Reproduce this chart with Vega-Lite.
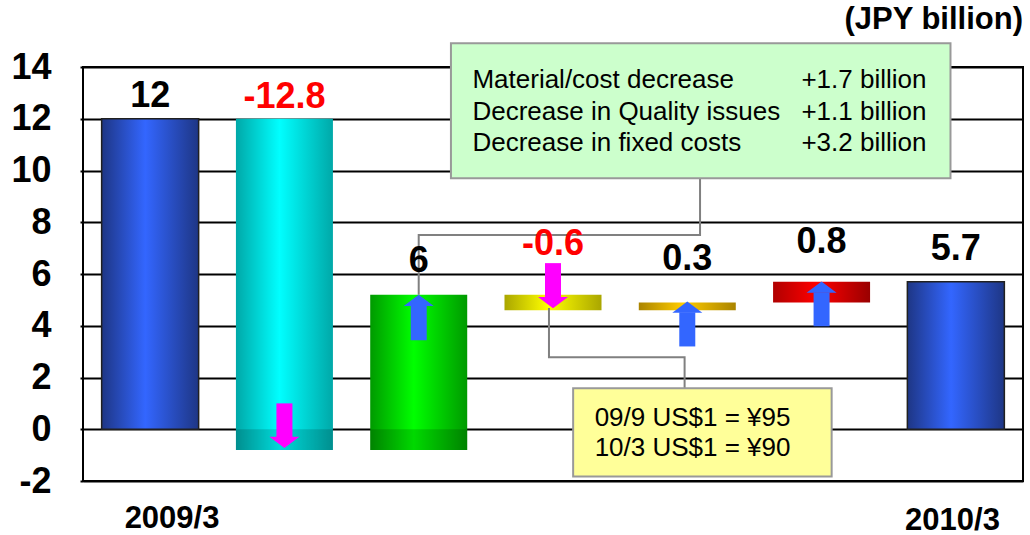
{
  "$schema": "https://vega.github.io/schema/vega-lite/v6.json",
  "width": 940,
  "height": 414,
  "autosize": {"type": "none"},
  "padding": {"left": 83, "top": 67, "right": 7, "bottom": 54},
  "background": "white",
  "config": {
    "view": {"stroke": "black", "strokeWidth": 2},
    "font": "Liberation Sans",
    "axisY": {
      "grid": true, "gridColor": "black", "gridWidth": 2, "gridOpacity": 1,
      "domain": false, "tickSize": 3, "tickColor": "black", "tickWidth": 2, "labelFontSize": 36, "labelFontWeight": "bold",
      "labelColor": "black", "labelPadding": 29, "labelFont": "Liberation Sans"
    }
  },
  "datasets": {
    "bars": [
      {"pos": 1, "text": "12", "value": 12, "lo": 0, "hi": 12, "labelY": 12.45},
      {"pos": 2, "text": "-12.8", "value": -12.8, "lo": -0.8, "hi": 12, "labelY": 12.42},
      {"pos": 3, "text": "6", "value": 6, "lo": -0.8, "hi": 5.2, "labelY": 6.09},
      {"pos": 4, "text": "-0.6", "value": -0.6, "lo": 4.6, "hi": 5.2, "labelY": 6.73},
      {"pos": 5, "text": "0.3", "value": 0.3, "lo": 4.6, "hi": 4.9, "labelY": 6.15},
      {"pos": 6, "text": "0.8", "value": 0.8, "lo": 4.9, "hi": 5.7, "labelY": 6.82},
      {"pos": 7, "text": "5.7", "value": 5.7, "lo": 0, "hi": 5.7, "labelY": 6.54}
    ],
    "arrows": [
      {"pos": 2, "dir": "down", "start": 1.0, "base": -0.3, "tip": -0.72},
      {"pos": 3, "dir": "up", "start": 3.44, "base": 4.78, "tip": 5.2},
      {"pos": 4, "dir": "down", "start": 6.42, "base": 5.1, "tip": 4.68},
      {"pos": 5, "dir": "up", "start": 3.2, "base": 4.52, "tip": 4.94},
      {"pos": 6, "dir": "up", "start": 3.98, "base": 5.29, "tip": 5.71}
    ],
    "connectors": [
      {"id": "a", "order": 1, "x": 5.095, "y": 9.7},
      {"id": "a", "order": 2, "x": 5.095, "y": 7.51},
      {"id": "a", "order": 3, "x": 3.0, "y": 7.51},
      {"id": "a", "order": 4, "x": 3.0, "y": 5.2},
      {"id": "b", "order": 1, "x": 3.97, "y": 4.69},
      {"id": "b", "order": 2, "x": 3.97, "y": 2.78},
      {"id": "b", "order": 3, "x": 4.98, "y": 2.78},
      {"id": "b", "order": 4, "x": 4.98, "y": 1.58}
    ],
    "boxes": [
      {"box": "green", "x": 3.24, "x2": 6.96, "y": 14.92, "y2": 9.7},
      {"box": "yellow", "x": 4.15, "x2": 6.075, "y": 1.58, "y2": -1.83}
    ],
    "boxText": [
      {"t": "Material/cost decrease", "x": 3.4, "y": 13.5},
      {"t": "Decrease in Quality issues", "x": 3.4, "y": 12.28},
      {"t": "Decrease in fixed costs", "x": 3.4, "y": 11.06},
      {"t": "+1.7 billion", "x": 5.85, "y": 13.5},
      {"t": "+1.1 billion", "x": 5.85, "y": 12.28},
      {"t": "+3.2 billion", "x": 5.85, "y": 11.06},
      {"t": "09/9 US$1 = ¥95", "x": 4.31, "y": 0.435},
      {"t": "10/3 US$1 = ¥90", "x": 4.31, "y": -0.725}
    ],
    "categories": [
      {"label": "2009/3", "x": 1.163, "y": -3.83},
      {"label": "2010/3", "x": 6.975, "y": -3.9}
    ],
    "unit": [
      {"label": "(JPY billion)", "x": 7.5, "y": 15.45}
    ]
  },
  "layer": [
    {
      "data": {"name": "bars"},
      "transform": [{"filter": "datum.pos == 1 || datum.pos == 7"}],
      "mark": {
        "type": "bar", "width": 97, "stroke": "#202020", "strokeWidth": 1.5,
        "color": {"gradient": "linear", "x1": 0, "y1": 0, "x2": 1, "y2": 0,
          "stops": [{"offset": 0, "color": "#1e3685"}, {"offset": 0.45, "color": "#3366ff"}, {"offset": 1, "color": "#1e3685"}]}
      },
      "encoding": {
        "x": {"field": "pos", "type": "quantitative", "scale": {"domain": [0.5, 7.5], "nice": false, "zero": false, "padding": 0}, "axis": null},
        "y": {"field": "lo", "type": "quantitative", "scale": {"domain": [-2, 14], "nice": false, "zero": false},
          "axis": {"title": null, "values": [-2, 0, 2, 4, 6, 8, 10, 12, 14], "labelExpr": "'' + datum.value"}},
        "y2": {"field": "hi"}
      }
    },
    {
      "data": {"name": "bars"},
      "transform": [{"filter": "datum.pos == 2"}],
      "mark": {
        "type": "bar", "width": 97,
        "color": {"gradient": "linear", "x1": 0, "y1": 0, "x2": 1, "y2": 0,
          "stops": [{"offset": 0, "color": "#00a8a8"}, {"offset": 0.45, "color": "#00ffff"}, {"offset": 1, "color": "#00a8a8"}]}
      },
      "encoding": {
        "x": {"field": "pos", "type": "quantitative", "axis": null},
        "y": {"field": "lo", "type": "quantitative", "axis": {"title": null}},
        "y2": {"field": "hi"}
      }
    },
    {
      "data": {"name": "bars"},
      "transform": [{"filter": "datum.pos == 3"}],
      "mark": {
        "type": "bar", "width": 97,
        "color": {"gradient": "linear", "x1": 0, "y1": 0, "x2": 1, "y2": 0,
          "stops": [{"offset": 0, "color": "#009a00"}, {"offset": 0.45, "color": "#00ff00"}, {"offset": 1, "color": "#009a00"}]}
      },
      "encoding": {
        "x": {"field": "pos", "type": "quantitative", "axis": null},
        "y": {"field": "lo", "type": "quantitative", "axis": {"title": null}},
        "y2": {"field": "hi"}
      }
    },
    {
      "data": {"name": "bars"},
      "transform": [{"filter": "datum.pos == 4"}],
      "mark": {
        "type": "bar", "width": 97,
        "color": {"gradient": "linear", "x1": 0, "y1": 0, "x2": 1, "y2": 0,
          "stops": [{"offset": 0, "color": "#aaa600"}, {"offset": 0.45, "color": "#ffff00"}, {"offset": 1, "color": "#aaa600"}]}
      },
      "encoding": {
        "x": {"field": "pos", "type": "quantitative", "axis": null},
        "y": {"field": "lo", "type": "quantitative", "axis": {"title": null}},
        "y2": {"field": "hi"}
      }
    },
    {
      "data": {"name": "bars"},
      "transform": [{"filter": "datum.pos == 5"}],
      "mark": {
        "type": "bar", "width": 97,
        "color": {"gradient": "linear", "x1": 0, "y1": 0, "x2": 1, "y2": 0,
          "stops": [{"offset": 0, "color": "#aa8400"}, {"offset": 0.45, "color": "#ffcc00"}, {"offset": 1, "color": "#aa8400"}]}
      },
      "encoding": {
        "x": {"field": "pos", "type": "quantitative", "axis": null},
        "y": {"field": "lo", "type": "quantitative", "axis": {"title": null}},
        "y2": {"field": "hi"}
      }
    },
    {
      "data": {"name": "bars"},
      "transform": [{"filter": "datum.pos == 6"}],
      "mark": {
        "type": "bar", "width": 97,
        "color": {"gradient": "linear", "x1": 0, "y1": 0, "x2": 1, "y2": 0,
          "stops": [{"offset": 0, "color": "#b00000"}, {"offset": 0.45, "color": "#ff0000"}, {"offset": 1, "color": "#990000"}]}
      },
      "encoding": {
        "x": {"field": "pos", "type": "quantitative", "axis": null},
        "y": {"field": "lo", "type": "quantitative", "axis": {"title": null}},
        "y2": {"field": "hi"}
      }
    },
    {
      "data": {"name": "bars"},
      "transform": [{"filter": "datum.lo < 0"}],
      "mark": {"type": "bar", "width": 97, "color": "black", "opacity": 0.15},
      "encoding": {
        "x": {"field": "pos", "type": "quantitative", "axis": null},
        "y": {"field": "lo", "type": "quantitative", "axis": {"title": null}},
        "y2": {"datum": 0}
      }
    },
    {
      "data": {"name": "connectors"},
      "mark": {"type": "line", "color": "#808080", "strokeWidth": 2},
      "encoding": {
        "x": {"field": "x", "type": "quantitative", "axis": null},
        "y": {"field": "y", "type": "quantitative", "axis": {"title": null}},
        "detail": {"field": "id"},
        "order": {"field": "order"}
      }
    },
    {
      "data": {"name": "arrows"},
      "mark": {"type": "rule", "strokeWidth": 16, "strokeCap": "butt"},
      "encoding": {
        "x": {"field": "pos", "type": "quantitative", "axis": null},
        "y": {"field": "start", "type": "quantitative", "axis": {"title": null}},
        "y2": {"field": "base"},
        "color": {"field": "dir", "type": "nominal", "scale": {"domain": ["up", "down"], "range": ["#3366ff", "#ff00ff"]}, "legend": null}
      }
    },
    {
      "data": {"name": "arrows"},
      "mark": {"type": "point", "filled": true, "size": 900, "opacity": 1, "strokeWidth": 0},
      "encoding": {
        "x": {"field": "pos", "type": "quantitative", "axis": null},
        "y": {"field": "tip", "type": "quantitative", "axis": {"title": null}},
        "shape": {"field": "dir", "type": "nominal", "scale": {"domain": ["up", "down"], "range": ["M0,0L1,0.75L-1,0.75Z", "M0,0L1,-0.75L-1,-0.75Z"]}, "legend": null},
        "color": {"field": "dir", "type": "nominal", "legend": null}
      }
    },
    {
      "data": {"name": "boxes"},
      "mark": {"type": "rect", "stroke": "#999999", "strokeWidth": 2},
      "encoding": {
        "x": {"field": "x", "type": "quantitative", "axis": null},
        "x2": {"field": "x2"},
        "y": {"field": "y", "type": "quantitative", "axis": {"title": null}},
        "y2": {"field": "y2"},
        "fill": {"condition": {"test": "datum.box == 'green'", "value": "#ccffcc"}, "value": "#ffff99"}
      }
    },
    {
      "data": {"name": "boxText"},
      "mark": {"type": "text", "align": "left", "baseline": "middle", "fontSize": 26, "font": "Liberation Sans", "color": "black"},
      "encoding": {
        "x": {"field": "x", "type": "quantitative", "axis": null},
        "y": {"field": "y", "type": "quantitative", "axis": {"title": null}},
        "text": {"field": "t"}
      }
    },
    {
      "data": {"name": "bars"},
      "mark": {"type": "text", "align": "center", "baseline": "alphabetic", "fontSize": 36, "fontWeight": "bold", "font": "Liberation Sans"},
      "encoding": {
        "x": {"field": "pos", "type": "quantitative", "axis": null},
        "y": {"field": "labelY", "type": "quantitative", "axis": {"title": null}},
        "text": {"field": "text"},
        "color": {"condition": {"test": "datum.value < 0", "value": "#ff0000"}, "value": "black"}
      }
    },
    {
      "data": {"name": "categories"},
      "mark": {"type": "text", "align": "center", "baseline": "alphabetic", "fontSize": 31, "fontWeight": "bold", "font": "Liberation Sans", "color": "black"},
      "encoding": {
        "x": {"field": "x", "type": "quantitative", "axis": null},
        "y": {"field": "y", "type": "quantitative", "axis": {"title": null}},
        "text": {"field": "label"}
      }
    },
    {
      "data": {"name": "unit"},
      "mark": {"type": "text", "align": "right", "baseline": "alphabetic", "fontSize": 31, "fontWeight": "bold", "font": "Liberation Sans", "color": "black"},
      "encoding": {
        "x": {"field": "x", "type": "quantitative", "axis": null},
        "y": {"field": "y", "type": "quantitative", "axis": {"title": null}},
        "text": {"field": "label"}
      }
    }
  ]
}
